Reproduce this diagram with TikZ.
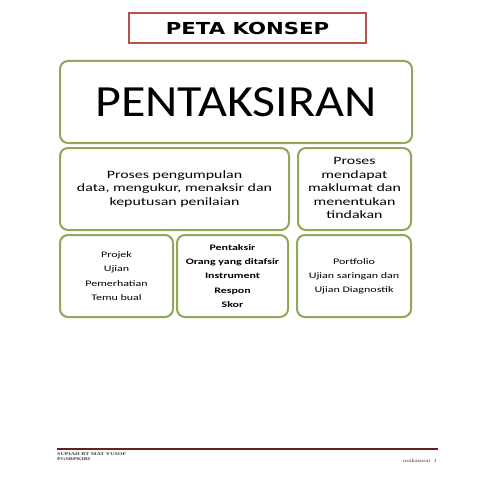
\documentclass[tikz,border=0pt]{standalone}
\usepackage{fontspec}
\usepackage{graphicx}
\setmainfont{Carlito}
\newfontfamily\titlefont{DejaVu Sans}
\newfontfamily\footfont{Liberation Serif}
\definecolor{boxgreen}{HTML}{8FA858}
\definecolor{titlered}{HTML}{B9524F}
\definecolor{footred}{HTML}{622423}
\newcommand{\sqz}[3]{\scalebox{1}[0.707]{\fontsize{#1}{#2}\selectfont\begin{tabular}{@{}c@{}}#3\end{tabular}}}
\tikzset{
  gbox/.style={draw=boxgreen, line width=2pt, rounded corners=8pt, fill=white, inner sep=0pt},
  tbox/.style={draw=titlered, line width=2.4pt, fill=white, inner sep=0pt},
  foot/.style={inner sep=0pt, text=black!75, font=\footfont}
}
\begin{document}
\begin{tikzpicture}[x=1pt,y=-1pt]
\useasboundingbox[fill=white] (0,0) rectangle (495,495);
% title
\node[tbox, minimum width=237pt, minimum height=30pt] (title) at (247.5,28)
  {\scalebox{1}[0.78]{\titlefont\bfseries\fontsize{21.2}{24}\selectfont PETA KONSEP}};
% main
\node[gbox, minimum width=352pt, minimum height=82pt] (main) at (236,102)
  {\scalebox{1.01}[0.9]{\fontsize{49.5}{55}\selectfont PENTAKSIRAN}};
% row 2
\node[gbox, minimum width=229pt, minimum height=82pt] (def) at (174.5,189)
  {\sqz{15.9}{19.1}{Proses pengumpulan\\data, mengukur, menaksir dan\\keputusan penilaian}};
\node[gbox, minimum width=113pt, minimum height=82pt] (proc) at (354.5,189)
  {\sqz{15.9}{19.1}{Proses\\mendapat\\maklumat dan\\menentukan\\tindakan}};
% row 3
\node[gbox, minimum width=113pt, minimum height=82pt] (meth) at (116.5,276)
  {\sqz{12}{20.2}{Projek\\Ujian\\Pemerhatian\\Temu bual}};
\node[gbox, minimum width=111pt, minimum height=82pt] (elem) at (232.5,276)
  {\sqz{11.9}{20.2}{\bfseries Pentaksir\\\bfseries Orang yang ditafsir\\\bfseries Instrument\\\bfseries Respon\\\bfseries Skor}};
\node[gbox, minimum width=114pt, minimum height=82pt] (port) at (354,276)
  {\sqz{12}{20}{Portfolio\\Ujian saringan dan\\Ujian Diagnostik}};
% footer
\coordinate (fl) at (57,449);
\coordinate (fr) at (438,449);
\draw[footred, line width=2pt] (fl) -- (fr);
\node[foot, anchor=west] (name) at (57,454.5) {\scalebox{1}[0.707]{\fontsize{6}{7}\selectfont\bfseries SUPIAH BT MAT YUSOF}};
\node[foot, anchor=west] (prog) at (57,459.5) {\scalebox{1}[0.707]{\fontsize{6}{7}\selectfont\bfseries PGSRPKIBI}};
\node[foot, anchor=east] (page) at (437,461) {\scalebox{1}[0.707]{\fontsize{6.5}{7}\selectfont mukasurat\ \ 1}};
\end{tikzpicture}
\end{document}
